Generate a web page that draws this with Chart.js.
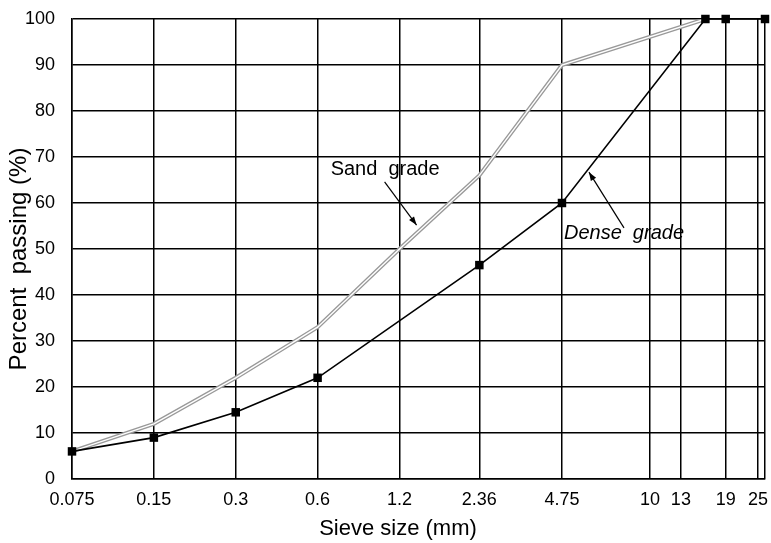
<!DOCTYPE html>
<html>
<head>
<meta charset="utf-8">
<script src="https://cdn.jsdelivr.net/npm/chart.js@4"></script>
<style>
  html, body { margin: 0; padding: 0; background: #fff; }
  #wrap { width: 771px; height: 543px; }
</style>
</head>
<body>
<div id="wrap"><canvas id="gradeChart"></canvas></div>
<script>
// sieve sizes shown on the x axis (mm)
var sieveTicks = [0.075, 0.15, 0.3, 0.6, 1.2, 2.36, 4.75, 10, 13, 19, 25];
var sieveMax = 26.5;
var yTicks = [0, 10, 20, 30, 40, 50, 60, 70, 80, 90, 100];

// dense grade (solid black, square markers)
var denseSize = [0.075, 0.15, 0.3, 0.6, 2.36, 4.75, 16, 19, 26.5];
var densePct = [6, 9, 14.5, 22, 46.5, 60, 100, 100, 100];

// sand grade (grey double line)
var sandSize = [0.075, 0.15, 0.3, 0.6, 1.2, 2.36, 4.75, 16];
var sandPct = [6, 12, 22, 33, 50, 66, 90, 100];

var FONT = 'Liberation Sans, Arial, sans-serif';

function toPoints(xs, ys) {
  var pts = [];
  for (var i = 0; i < xs.length; i++) {
    pts.push({ x: xs[i], y: ys[i] });
  }
  return pts;
}

function arrow(ctx, x1, y1, x2, y2) {
  var ang = Math.atan2(y2 - y1, x2 - x1);
  ctx.beginPath();
  ctx.moveTo(x1, y1);
  ctx.lineTo(x2, y2);
  ctx.stroke();
  ctx.beginPath();
  ctx.moveTo(x2, y2);
  ctx.lineTo(x2 - 9 * Math.cos(ang - 0.35), y2 - 9 * Math.sin(ang - 0.35));
  ctx.lineTo(x2 - 9 * Math.cos(ang + 0.35), y2 - 9 * Math.sin(ang + 0.35));
  ctx.closePath();
  ctx.fill();
}

// labels, arrows and axis titles
var notesPlugin = {
  id: 'notes',
  afterDatasetsDraw: function(chart) {
    var ctx = chart.ctx;
    var xs = chart.scales.x;
    var ys = chart.scales.y;
    ctx.save();
    ctx.fillStyle = '#000';
    ctx.strokeStyle = '#000';
    ctx.lineWidth = 1.2;
    ctx.textBaseline = 'alphabetic';
    ctx.textAlign = 'left';

    ctx.font = '20px ' + FONT;
    ctx.fillText('Sand  grade', xs.getPixelForValue(0.67), ys.getPixelForValue(66));
    arrow(ctx, xs.getPixelForValue(1.058), ys.getPixelForValue(64.6),
               xs.getPixelForValue(1.387), ys.getPixelForValue(55.2));

    ctx.font = 'italic 20px ' + FONT;
    ctx.fillText('Dense  grade', xs.getPixelForValue(4.83), ys.getPixelForValue(52.2));
    arrow(ctx, xs.getPixelForValue(8.03), ys.getPixelForValue(54.6),
               xs.getPixelForValue(5.97), ys.getPixelForValue(66.7));

    // axis titles
    ctx.textAlign = 'center';
    ctx.textBaseline = 'middle';
    ctx.font = '22px ' + FONT;
    ctx.fillText('Sieve size (mm)', 398, 529);
    ctx.translate(19, 259);
    ctx.rotate(-Math.PI / 2);
    ctx.font = '24px ' + FONT;
    ctx.fillText('Percent  passing (%)', 0, 0);
    ctx.restore();
  }
};

var ctx = document.getElementById('gradeChart').getContext('2d');

new Chart(ctx, {
  type: 'line',
  data: {
    datasets: [{
      label: 'Dense grade',
      data: toPoints(denseSize, densePct),
      borderColor: '#000',
      backgroundColor: '#000',
      borderWidth: 1.6,
      pointStyle: 'rect',
      pointRadius: 6,
      pointBorderWidth: 0,
      clip: 6,
      order: 0
    }, {
      label: 'Sand grade inner',
      data: toPoints(sandSize, sandPct),
      borderColor: '#fff',
      borderWidth: 1.4,
      pointRadius: 0,
      order: 1
    }, {
      label: 'Sand grade',
      data: toPoints(sandSize, sandPct),
      borderColor: '#999',
      borderWidth: 4,
      pointRadius: 0,
      order: 2
    }]
  },
  options: {
    responsive: true,
    maintainAspectRatio: false,
    animation: false,
    layout: { padding: { left: 0, right: 6, top: 19, bottom: 0 } },
    plugins: {
      legend: { display: false },
      tooltip: { enabled: false }
    },
    scales: {
      x: {
        type: 'logarithmic',
        min: 0.075,
        max: sieveMax,
        afterBuildTicks: function(scale) {
          var t = [];
          for (var i = 0; i < sieveTicks.length; i++) {
            t.push({ value: sieveTicks[i] });
          }
          t.push({ value: sieveMax });
          scale.ticks = t;
        },
        afterFit: function(scale) {
          scale.height = 64;
          scale.paddingLeft = 0;
          scale.paddingRight = 0;
        },
        grid: { color: '#000', lineWidth: 1.5, drawTicks: false },
        border: { color: '#000', width: 1.5 },
        ticks: {
          autoSkip: false,
          maxRotation: 0,
          padding: 10,
          color: '#000',
          font: { family: FONT, size: 18 },
          callback: function(value) {
            return sieveTicks.indexOf(value) >= 0 ? String(value) : '';
          }
        }
      },
      y: {
        min: 0,
        max: 100,
        afterBuildTicks: function(scale) {
          scale.ticks = yTicks.map(function(v) { return { value: v }; });
        },
        afterFit: function(scale) {
          scale.width = 72;
          scale.paddingTop = 0;
          scale.paddingBottom = 0;
        },
        grid: { color: '#000', lineWidth: 1.5, drawTicks: false },
        border: { color: '#000', width: 1.5 },
        ticks: {
          padding: 17,
          color: '#000',
          font: { family: FONT, size: 18 }
        }
      }
    }
  },
  plugins: [notesPlugin]
});
</script>
</body>
</html>
